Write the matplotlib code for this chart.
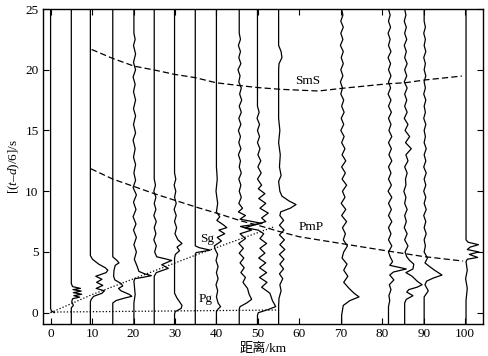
import matplotlib
matplotlib.use("Agg")
import matplotlib.pyplot as plt

plt.rcParams['font.family'] = ['Liberation Serif', 'Noto Sans CJK SC', 'DejaVu Sans']
plt.rcParams['mathtext.fontset'] = 'custom'
plt.rcParams['mathtext.rm'] = 'Liberation Serif'
plt.rcParams['mathtext.it'] = 'Liberation Serif:italic'

# station distances (km)
distances = [0.0, 5.0, 9.6, 15.0, 20.1, 25.0, 29.9, 34.9, 40.0, 45.5,
             49.9, 55.0, 70.2, 81.5, 85.4, 90.1, 100.2]

# traces: (reduced time s, deflection in km)
tr00 = [(25, 0), (0.35, 0), (0.15, 0.2), (0.0, 0.9)]
tr05 = [(25, 0), (2.4, 0), (2.15, 0.3), (2.0, 2.2), (1.9, 0.4), (1.78, 2.4), (1.65, 0.5),
        (1.52, 2.5), (1.4, 0.6), (1.28, 2.0), (1.15, 0.3), (0.9, 0.1), (0.6, 0.5), (0.4, 0.0), (-1, 0)]
tr10 = [(25, 0), (4.7, 0), (4.4, 0.5), (4.0, 2.0), (3.7, 3.6), (3.5, 4.2), (3.3, 3.8), (3.0, 1.3),
        (2.75, 2.8), (2.5, 1.5), (2.25, 3.0), (2.0, 1.4), (1.8, 3.4), (1.6, 2.8), (1.35, 0.8),
        (1.1, 0.2), (0.9, 0), (-1, 0)]
tr15 = [(25, 0), (4.6, 0), (4.3, 1.0), (4.1, 1.5), (3.9, 0.6), (3.5, 0.3), (3.0, 0.2), (2.7, 0.5),
        (2.4, 2.0), (2.2, 2.4), (2.0, 1.4), (1.8, 2.0), (1.5, 4.0), (1.35, 4.6), (1.2, 2.8),
        (1.0, 0.8), (0.8, 0), (-1, 0)]
tr20 = [(25, 0), (23, 0), (22.5, 0.3), (22, -0.1), (21.3, 0.4), (20.6, -0.1), (20, 0.4), (19.4, -0.2),
        (18.8, 0.3), (18.2, -0.1), (17.5, 0.4), (16.8, -0.1), (16.2, 0.4), (15.5, -0.1), (14.8, 0.4),
        (14.2, -0.2), (13.5, 0.3), (12.8, -0.1), (12.2, 0.4), (11.5, 0), (10.9, 0.4), (10.3, -0.2),
        (9.7, 0.6), (9.1, -0.1), (8.5, 0.5), (7.9, -0.2), (7.3, 0.5), (6.8, -0.1), (6.2, 0.6),
        (5.6, 0.0), (5.0, 0.6), (4.4, 0.1), (3.8, 0.8), (3.4, 1.2), (3.2, 2.6), (3.05, 4.2),
        (2.9, 2.0), (2.8, 0.2), (2.6, 0), (1.5, 0.3), (0.8, 0), (-1, 0)]
tr25 = [(25, 0), (11, 0), (10.5, 0.3), (10, -0.1), (9.5, 0.4), (9, 0), (8.5, 0.4), (8, -0.1),
        (7.5, 0.5), (7, 0), (6.5, 0.4), (6, -0.1), (5.5, 0.5), (5, 0.1), (4.6, 0.6), (4.45, 2.5),
        (4.3, 4.2), (3.95, 1.8), (3.65, 3.4), (3.3, 0.5), (3.0, 0), (-1, 0)]
tr30 = [(25, 0), (11.5, 0), (11, 0.3), (10.5, -0.1), (10, 0.3), (9.5, 0), (9, 0.4), (8.5, -0.1),
        (8, 0.4), (7.5, 0), (7, 0.5), (6.5, 0.1), (6, 0.8), (5.7, 1.8), (5.4, 0.6), (5.1, 1.2),
        (4.8, 0.2), (4.5, 0), (1.6, 0), (1.2, 0.6), (0.6, 1.8), (0.35, 1.6), (0.1, 0.2), (-0.1, 0), (-1, 0)]
tr35 = [(25, 0), (5.5, 0), (5.35, 1.0), (5.15, 3.6), (5.05, 2.0), (4.95, 0.2), (4.8, 0), (-1, 0)]
tr40 = [(25, 0), (12, 0), (11, 0.2), (10, -0.1), (9, 0.3), (8.3, 0), (7.9, 0.8), (7.6, 0.1),
        (7.2, 1.8), (7.0, 2.5), (6.8, 0.6), (6.5, 2.0), (6.2, 0.2), (5.9, 1.2), (5.5, -0.5),
        (5.2, -0.3), (4.8, 0.3), (4.3, -0.1), (3.8, 0.4), (3.3, 0), (2.8, 0.4), (2.3, -0.1),
        (1.8, 0.3), (1.3, 0), (0.8, 0.4), (0.5, 1.0), (0.3, 0.4), (0.1, 0), (-1, 0)]
tr45 = [(25, 0), (23, 0), (22.5, 0.3), (22, -0.2), (21.5, 0.3), (21, -0.1), (20.5, 0.4), (20, -0.3),
        (19.5, 0.2), (19, -0.1), (18.5, 0.5), (18, 0.1), (17.5, 0.6), (17, 0), (16.5, 0.5), (16, -0.1),
        (15.5, 0.4), (15, -0.2), (14.5, 0.3), (14, -0.1), (13.5, 0.4), (13, -0.2), (12.5, 0.3), (12, 0),
        (11.5, 0.5), (11, -0.1), (10.5, 0.4), (10, 0), (9.5, 0.5), (9, -0.1), (8.6, 0.8), (8.3, -0.2),
        (8.0, 1.5), (7.7, 0.2), (7.35, 5.5), (7.1, 0.3), (6.8, 3.0), (6.5, 0.2), (6.1, 1.5),
        (5.7, -0.1), (5.3, 1.0), (4.9, 0), (4.5, 1.1), (4.1, 0.2), (3.7, 1.2), (3.3, 0.4),
        (2.9, 1.5), (2.5, 0.9), (2.0, 2.0), (1.5, 2.4), (1.1, 3.0), (0.8, 1.8), (0.5, 0.2),
        (0.3, 0), (-1, 0)]
tr50 = [(25, 0), (17, 0), (16.5, 0.4), (16, -0.1), (15.5, 0.5), (15, 0), (14.5, 0.5), (14, 0),
        (13.5, 0.6), (13, 0.1), (12.5, 0.8), (12, 0.1), (11.5, 0.9), (11, 0.0), (10.5, 1.0),
        (10.2, 0.2), (9.8, 1.8), (9.4, 0.3), (9.0, 2.0), (8.6, 0.6), (8.2, 2.6), (7.8, 1.0),
        (7.5, 2.0), (7.2, -1.0), (7.0, -3.0), (6.8, 0.2), (6.5, 1.5), (6.1, 0.6), (5.7, 2.2),
        (5.3, 0.6), (4.9, 1.8), (4.5, 0.3), (4.1, 2.0), (3.7, 0.5), (3.3, 2.2), (2.9, 0.5),
        (2.5, 2.3), (2.1, 1.0), (1.6, 3.0), (1.0, 3.6), (0.5, 4.4), (0.25, 2.5), (0.0, 0.2),
        (-0.2, 0), (-1, 0)]
tr55 = [(25, 0), (22, 0), (21.5, 0.6), (21, 0.8), (20.5, 0.1), (20, 0), (16, 0), (15, 0.3), (14, 0),
        (13, 0.4), (12, 0.2), (11.3, 0.6), (10.8, 0), (10, 0.3), (9.6, 0.8), (9.2, 2.5), (8.9, 4.2),
        (8.6, 2.8), (8.3, 0.5), (8.0, 0.3), (7.6, 1.2), (7.2, 0.2), (6.8, 1.3), (6.4, 0.2),
        (6.0, 1.4), (5.6, 0.3), (5.2, 1.5), (4.8, 0.2), (4.4, 1.3), (4.0, 0.3), (3.6, 1.2),
        (3.2, 0.2), (2.8, 1.0), (2.3, 0.3), (1.8, 0.6), (1.2, 0.1), (0.6, 0), (-1, 0)]
tr70 = [(25, 0), (24.5, 0.3), (24, -0.2), (23.5, 0.4), (23, -0.2), (22.5, 0.3), (22, -0.3), (21.5, 0.4),
        (21, -0.1), (20.5, 0.4), (20, -0.2), (19.5, 0.3), (19, -0.3), (18.5, 0.2), (18, -0.2),
        (17.5, 0.5), (17, 0), (16.5, 0.6), (16, -0.1), (15.5, 0.5), (15, -0.2), (14.5, 0.6), (14, 0),
        (13.5, 0.8), (13, 0.1), (12.5, 1.0), (12, 0), (11.5, 0.9), (11, 0.1), (10.5, 1.2), (10, 0.2),
        (9.5, 0.8), (9, -0.1), (8.5, 1.0), (8, 0.0), (7.5, 1.2), (7, 0.2), (6.5, 0.9), (6, 0.4),
        (5.5, 1.4), (5, 0.5), (4.5, 0.1), (4, 1.3), (3.5, 0.5), (3, 1.5), (2.5, 0.5), (2, 1.8),
        (1.6, 3.0), (1.3, 4.2), (1.0, 2.0), (0.6, 0.4), (0.2, 0.2), (-0.2, 0), (-1, 0)]
tr82 = [(25, 0), (24.5, 0.4), (24, 0), (23.5, 0.5), (23, -0.1), (22.5, 0.4), (22, 0), (21.5, 0.6),
        (21, -0.1), (20.5, 0.5), (20, 0), (19.5, 0.6), (19, 0), (18.5, 0.5), (18, -0.1), (17.5, 0.6),
        (17, 0), (16.5, 0.7), (16, 0), (15.5, 0.6), (15, 0.1), (14.5, 0.8), (14, 0), (13.5, 0.7),
        (13, 0.1), (12.5, 0.8), (12, 0), (11.5, 0.6), (11, 0), (10.5, 0.7), (10, -0.1), (9.5, 0.8),
        (9, 0), (8.5, 0.7), (8, 0), (7.5, 0.8), (7, 0), (6.5, 0.6), (6, 0), (5.5, 0.8), (5, 0),
        (4.6, 0.4), (4.2, 1.0), (3.9, 0.3), (3.6, 4.3), (3.35, 1.2), (3.1, 0.3), (2.7, 1.3),
        (2.3, 0.2), (1.9, 0.6), (1.4, 0.1), (1.0, 0.3), (0.5, 0), (-1, 0)]
tr85 = [(25, 0), (24.5, 0.3), (24, -0.1), (23.5, 0.4), (23, 0), (22.5, 0.5), (22, -0.1), (21.5, 0.4),
        (21, 0), (20.5, 0.6), (20, 0), (19.5, 0.5), (19, -0.1), (18.5, 0.6), (18, 0), (17.5, 0.5),
        (17, 0), (16.5, 0.6), (16, -0.1), (15.5, 0.8), (15, 0.1), (14.5, 1.2), (14, 0.2), (13.5, 1.6),
        (13, 0.3), (12.5, 0.8), (12, 0), (11.5, 0.6), (11, 0.2), (10.5, 0.3), (10, -0.2), (9.5, 0.3),
        (9, 0), (8.5, 0.6), (8, 0), (7.5, 0.4), (7, -0.1), (6.5, 0.6), (6, 0), (5.5, 0.8), (5, 0.1),
        (4.6, 0.5), (4.3, 1.2), (4.0, 2.2), (3.6, 2.0), (3.3, 0.3), (3.0, 1.8), (2.6, 3.0),
        (2.3, 4.2), (2.1, 3.0), (1.9, 1.0), (1.7, 0.5), (1.4, 2.0), (1.1, 0.4), (0.8, 0), (-1, 0)]
tr90 = [(25, 0), (24, 0), (23.5, 0.3), (23, -0.1), (22.5, 0.3), (22, 0), (21.5, 0.4), (21, -0.1),
        (20.5, 0.3), (20, 0), (19.5, 0.4), (19, 0), (18.5, 0.3), (18, -0.1), (17.5, 0.4), (17, 0),
        (16.5, 0.3), (16, -0.1), (15.5, 0.4), (15, 0), (14.5, 0.3), (14, 0), (13.5, 0.5), (13, 0),
        (12.5, 0.4), (12, -0.1), (11.5, 0.5), (11, 0), (10.5, 0.4), (10, -0.1), (9.5, 0.4), (9, 0),
        (8.5, 0.5), (8, -0.1), (7.5, 0.4), (7, 0), (6.5, 0.5), (6, 0), (5.5, 0.3), (5, 0),
        (4.5, 0.8), (4.1, 0.2), (3.8, 1.3), (3.5, 2.5), (3.1, 4.3), (2.85, 2.2), (2.6, 0.6),
        (2.3, 0.2), (1.8, 1.0), (1.3, 0), (-1, 0)]
tr100 = [(25, 0), (6.0, 0), (5.8, 0.5), (5.6, 3.0), (5.4, 1.0), (5.2, 0.3), (5.0, 3.1), (4.8, 0.8),
         (4.55, 2.8), (4.4, 0.3), (4.2, 0), (3.5, 0.3), (2.8, -0.1), (2.0, 0.3), (1.0, 0), (-1, 0)]

traces = [tr00, tr05, tr10, tr15, tr20, tr25, tr30, tr35, tr40, tr45,
          tr50, tr55, tr70, tr82, tr85, tr90, tr100]

# travel-time curves (km, s)
pg_x = [0.0, 54.5]
pg_t = [0.05, 0.22]
sg_x = [0.0, 9.7, 34.9, 53.7]
sg_t = [0.0, 1.45, 4.73, 7.05]
pmp_x = [9.7, 15, 20, 25, 30, 36, 40, 46, 50, 55, 60, 70, 80, 90, 99.5]
pmp_t = [11.85, 11.0, 10.4, 9.8, 9.25, 8.6, 8.2, 7.55, 7.2, 6.7, 6.25, 5.7, 5.15, 4.62, 4.25]
sms_x = [9.9, 15, 20.1, 25, 29.9, 34.9, 39.9, 45.5, 50.1, 55.4, 64.6, 70.3, 81.5, 85.5, 90.3, 99.2]
sms_t = [21.67, 20.93, 20.3, 19.98, 19.62, 19.35, 18.93, 18.7, 18.53, 18.39, 18.25, 18.47,
         18.85, 18.93, 19.16, 19.48]

phase_labels = ['SmS', 'PmP', 'Sg', 'Pg']
label_x = [62.0, 62.8, 37.7, 37.4]
label_t = [19.07, 7.05, 6.1, 1.1]

xticks = [0, 10, 20, 30, 40, 50, 60, 70, 80, 90, 100]
yticks = [0, 5, 10, 15, 20, 25]

fig = plt.figure(figsize=(4.88, 3.56), dpi=100)
ax = fig.add_axes([0.0875, 0.0899, 0.9023, 0.8848])

for d, tr in zip(distances, traces):
    ts = [p[0] for p in tr]
    xs = [d + p[1] for p in tr]
    ax.plot(xs, ts, color='black', lw=0.9, solid_joinstyle='round')

ax.plot(pg_x, pg_t, color='black', lw=0.9, linestyle=(0, (1, 1.6)))
ax.plot(sg_x, sg_t, color='black', lw=0.9, linestyle=(0, (1, 1.6)))
ax.plot(pmp_x, pmp_t, color='black', lw=0.9, linestyle=(0, (5, 2.5)))
ax.plot(sms_x, sms_t, color='black', lw=0.9, linestyle=(0, (5, 2.5)))

for lab, lx, lt in zip(phase_labels, label_x, label_t):
    ax.text(lx, lt, lab, ha='center', va='center', fontsize=9.5)

ax.set_xlim(-1.9, 104.3)
ax.set_ylim(-0.93, 25)
ax.set_xticks(xticks)
ax.set_yticks(yticks)
ax.tick_params(direction='in', top=True, right=True, length=4, width=0.8,
               labelsize=9.5, pad=3)
for s in ax.spines.values():
    s.set_linewidth(1.0)

ax.set_xlabel('距离/km', fontsize=9.5, labelpad=2)
ax.set_ylabel(r'[($t$–$d$)/6]/s', fontsize=9.5, labelpad=2)

fig.savefig('out.png', dpi=100)
